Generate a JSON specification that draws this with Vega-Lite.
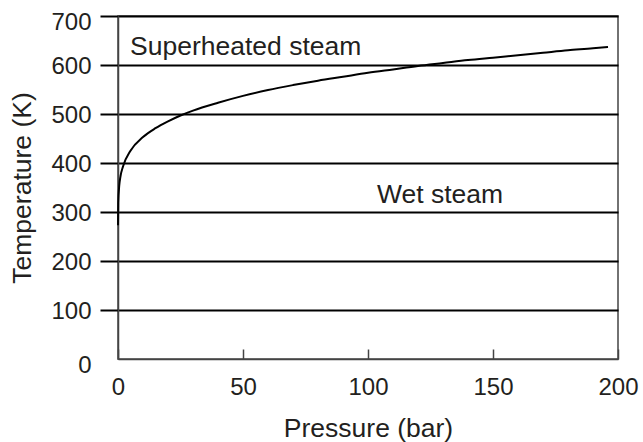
{
  "$schema": "https://vega.github.io/schema/vega-lite/v6.json",
  "width": 500,
  "height": 343,
  "autosize": {"type": "none"},
  "padding": {"left": 118, "top": 16, "right": 25, "bottom": 83},
  "background": "white",
  "config": {
    "font": "Liberation Sans",
    "view": {"stroke": "#444", "strokeWidth": 1.5}
  },
  "datasets": {
    "curve": [
      {"p": 0.006, "t": 273},
      {"p": 0.1, "t": 319},
      {"p": 0.5, "t": 354},
      {"p": 1, "t": 373},
      {"p": 2, "t": 393},
      {"p": 5, "t": 425},
      {"p": 10, "t": 453},
      {"p": 15, "t": 471},
      {"p": 20, "t": 485},
      {"p": 25, "t": 497},
      {"p": 30, "t": 507},
      {"p": 40, "t": 523},
      {"p": 50, "t": 537},
      {"p": 60, "t": 549},
      {"p": 70, "t": 559},
      {"p": 80, "t": 568},
      {"p": 90, "t": 576},
      {"p": 100, "t": 584},
      {"p": 110, "t": 591},
      {"p": 120, "t": 598},
      {"p": 130, "t": 604},
      {"p": 140, "t": 610},
      {"p": 150, "t": 615},
      {"p": 160, "t": 620},
      {"p": 170, "t": 625},
      {"p": 180, "t": 630},
      {"p": 190, "t": 634},
      {"p": 196, "t": 637}
    ],
    "labels": [
      {"p": 4.8, "t": 620, "label": "Superheated steam"},
      {"p": 103.6, "t": 318, "label": "Wet steam"}
    ]
  },
  "layer": [
    {
      "data": {"name": "curve"},
      "mark": {"type": "line", "color": "black", "strokeWidth": 2, "interpolate": "monotone"},
      "encoding": {
        "x": {
          "field": "p", "type": "quantitative",
          "scale": {"domain": [0, 200], "nice": false},
          "axis": {
            "title": "Pressure (bar)",
            "values": [0, 50, 100, 150, 200],
            "grid": false,
            "domainColor": "#444",
            "domainWidth": 1.5,
            "tickColor": "#444",
            "tickWidth": 1.5,
            "tickSize": -10,
            "labelPadding": 26,
            "labelFontSize": 24,
            "labelColor": "#231f20",
            "labelFlush": false,
            "labelOverlap": false,
            "titleFontSize": 26.5,
            "titleFontWeight": "normal",
            "titleColor": "#231f20",
            "titlePadding": 16
          }
        },
        "y": {
          "field": "t", "type": "quantitative",
          "scale": {"domain": [0, 700], "nice": false},
          "axis": {
            "title": "Temperature (K)",
            "values": [0, 100, 200, 300, 400, 500, 600, 700],
            "grid": true,
            "gridColor": {"condition": {"test": "datum.value == 0", "value": "transparent"}, "value": "black"},
            "gridWidth": 2,
            "gridOpacity": 1,
            "domainColor": "#444",
            "domainWidth": 1.5,
            "tickColor": {"condition": {"test": "datum.value == 0", "value": "transparent"}, "value": "black"},
            "tickWidth": 2,
            "tickSize": 18,
            "labelPadding": 9,
            "labelFontSize": 24,
            "labelColor": "#231f20",
            "labelFlush": false,
            "labelOverlap": false,
            "labelOffset": {"condition": {"test": "datum.value == 700 || datum.value == 0", "value": 6}, "value": 1},
            "titleFontSize": 26.5,
            "titleFontWeight": "normal",
            "titleColor": "#231f20",
            "titlePadding": 14
          }
        }
      }
    },
    {
      "data": {"name": "labels"},
      "mark": {"type": "text", "align": "left", "baseline": "alphabetic", "fontSize": 26.5, "color": "#231f20"},
      "encoding": {
        "x": {"field": "p", "type": "quantitative"},
        "y": {"field": "t", "type": "quantitative"},
        "text": {"field": "label"}
      }
    }
  ]
}
